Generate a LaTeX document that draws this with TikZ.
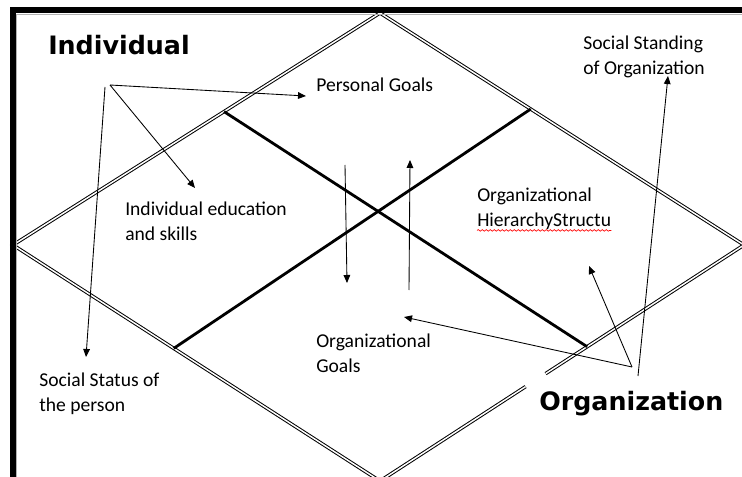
\documentclass[tikz,border=0pt]{standalone}
\usepackage{fontspec}
\setmainfont{Carlito}
\newfontfamily\headfont{DejaVu Sans}
\usetikzlibrary{arrows.meta,calc,decorations.pathmorphing}
\tikzset{%
  pageframe/.style = {line width=4.5pt, line join=miter},%
  rim/.style       = {draw=black, double=white, line width=0.75pt,%
                      double distance=1.1pt},%
  divider/.style   = {line width=2.1pt},%
  link/.style      = {line width=0.65pt, -{Triangle[length=6pt,width=5pt]}},%
  note/.style      = {inner sep=0pt, anchor=base west, align=left,%
                      font=\fontsize{14.7}{18.75}\selectfont},%
  party/.style     = {inner sep=0pt, anchor=base west,%
                      font=\headfont\bfseries\fontsize{19}{23}\selectfont},%
  squiggle/.style  = {red, line width=0.5pt, decorate,%
                      decoration={snake, amplitude=0.6pt, segment length=3pt}}%
}

\begin{document}
\begin{tikzpicture}[x=0.75pt, y=-0.75pt]
  \useasboundingbox (0,0) rectangle (742,477);
  \clip (0,0) rectangle (742,477);

  % diamond corners
  \coordinate (T) at (380,13);
  \coordinate (L) at (13,245);
  \coordinate (R) at (744,245);
  \coordinate (B) at (380,481);
  \draw[rim] ($(B)!0.455!(R)$) -- (R) -- (T) -- (L) -- (B) -- ($(B)!0.4!(R)$);

  % the two thick dividers
  \draw[divider] ($(L)!0.575!(T)$) -- ($(B)!0.569!(R)$);
  \draw[divider] ($(T)!0.414!(R)$) -- ($(L)!0.438!(B)$);

  % frame
  \draw[pageframe] (745,10) -- (12.5,10) -- (12.5,480);
  \draw[gray!60, line width=0.6pt] (745,14.5) -- (16,14.5) -- (16,480);

  \node[party] (ind) at (48,55) {Individual};
  \node[party] (org) at (539,410) {Organization};

  % two-line notes sit on the baseline of their last line
  \node[note] (pgoal)  at (316,92)  {Personal Goals};
  \node[note] (skill)  at (125,241) {Individual education\\and skills};
  \node[note] (hier)   at (477,227) {Organizational\\HierarchyStructu};
  \node[note] (ogoal)  at (316,372) {Organizational\\Goals};
  \node[note] (status) at (39,411)  {Social Status of\\the person};
  \node[note] (stand)  at (583,75)  {Social Standing\\of Organization};
  \draw[squiggle] (hier.south west) -- (hier.south east);

  % arrows out of the individual
  \coordinate (ifan)   at (110,85);
  \coordinate (ifanb)  at (105,87);
  \coordinate (tpgoal) at (306,96);
  \coordinate (tskill) at (195,188);
  \coordinate (tstat)  at (86,357);
  \draw[link] (ifan) -- (tpgoal);
  \draw[link] (ifan) -- (tskill);
  \draw[link] (ifanb) -- (tstat);

  % goals passed down and up
  \coordinate (dtop) at (345,165);
  \coordinate (dbot) at (347,283);
  \coordinate (ubot) at (409,290);
  \coordinate (utop) at (410,160);
  \draw[link] (dtop) -- (dbot);
  \draw[link] (ubot) -- (utop);

  % arrows out of the organization
  \coordinate (ofan)   at (632,367);
  \coordinate (ofanb)  at (638,376);
  \coordinate (togoal) at (404,317);
  \coordinate (thier)  at (589,266);
  \coordinate (tstand) at (668,76);
  \draw[link] (ofan) -- (togoal);
  \draw[link] (ofan) -- (thier);
  \draw[link] (ofanb) -- (tstand);
\end{tikzpicture}
\end{document}
